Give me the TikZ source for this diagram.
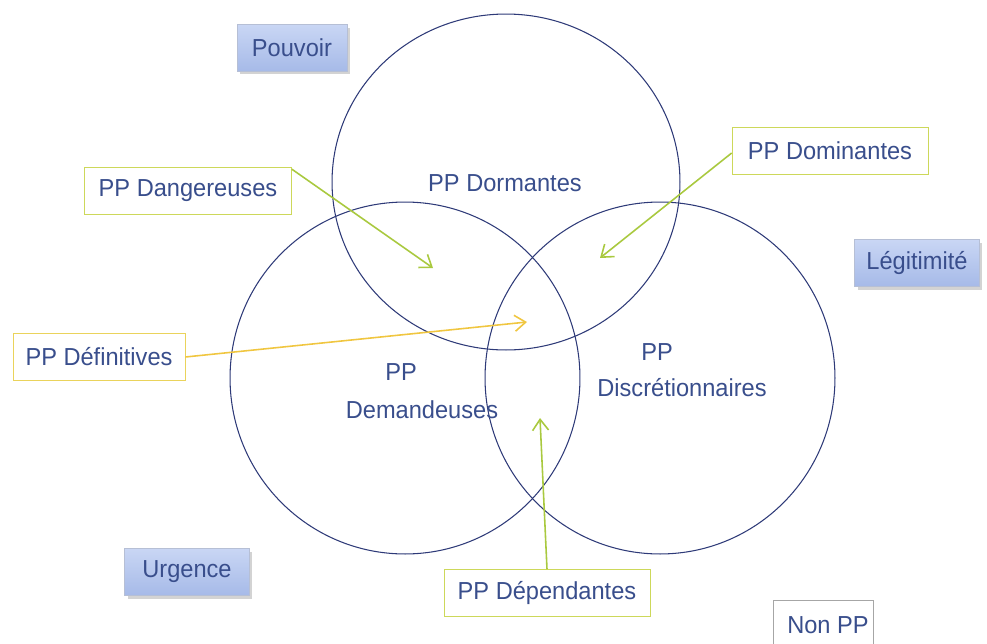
\documentclass[tikz,border=0pt]{standalone}
\usepackage{fontspec}
\setmainfont{Liberation Sans}[FakeStretch=0.96]
\usetikzlibrary{arrows.meta,shadows}
\definecolor{txt}{HTML}{394E8C}
\definecolor{ring}{HTML}{2E3A78}
\definecolor{leaf}{HTML}{A9C93F}
\definecolor{leafbox}{HTML}{CDD85A}
\definecolor{gold}{HTML}{F0C640}
\definecolor{goldbox}{HTML}{EAD35B}
\definecolor{tagtop}{HTML}{C9D6F4}
\definecolor{tagbot}{HTML}{A6BAE8}
\begin{document}
\begin{tikzpicture}[x=0.02cm,y=-0.02cm,
      every node/.style={text=txt,font=\fontsize{14}{16}\selectfont,inner sep=0pt},
      tag/.style={draw=tagbot!80!black!60,top color=tagtop,bottom color=tagbot,
        minimum height=0.94cm,drop shadow={opacity=0.35,shadow xshift=0.6mm,shadow yshift=-0.6mm}},
      pp/.style={draw=leafbox,fill=white,minimum height=0.94cm},
      ppgold/.style={draw=goldbox,fill=white,minimum height=0.94cm},
      ptr/.style={leaf,line width=0.9pt,-{Straight Barb[length=2.2mm,width=3.2mm]}},
      ptrgold/.style={gold,line width=0.9pt,-{Straight Barb[length=2.2mm,width=3.2mm]}}]
  \useasboundingbox (0,0) rectangle (987,643);

  % circles
  \draw[ring,line width=0.6pt] (506,182) ellipse [x radius=3.48cm,y radius=3.36cm];
  \draw[ring,line width=0.6pt] (405,378) ellipse [x radius=3.5cm,y radius=3.52cm];
  \draw[ring,line width=0.6pt] (660,378) ellipse [x radius=3.5cm,y radius=3.52cm];

  \node (dorm) at (505,183) {PP Dormantes};
  \node (dem1) at (401,372) {PP};
  \node (dem2) at (422,410) {Demandeuses};
  \node (dis1) at (657,352) {PP};
  \node (dis2) at (682,388) {Discrétionnaires};

  % attributes
  \node[tag,minimum width=2.2cm] (pouv) at (292,48) {Pouvoir};
  \node[tag,minimum width=2.5cm] (legi) at (917,263) {Légitimité};
  \node[tag,minimum width=2.5cm] (urg) at (187,572) {Urgence};

  % stakeholder boxes
  \node[pp,minimum width=4.14cm] (dang) at (188,191) {PP Dangereuses};
  \node[pp,minimum width=3.92cm] (domi) at (830,151) {PP Dominantes};
  \node[ppgold,minimum width=3.44cm] (defi) at (99,357) {PP Définitives};
  \node[pp,minimum width=4.12cm] (depe) at (547,593) {PP Dépendantes};
  \node[draw=gray!70,fill=white,minimum width=2cm,minimum height=1.3cm,anchor=north west] (nonpp) at (773,600) {};
  \node (nonlbl) at (828,625) {Non PP};

  \coordinate (pdang) at (433,268);
  \coordinate (pdomi) at (600,258);
  \coordinate (pdefi) at (527,322);
  \coordinate (pdepe) at (540,418);

  \draw[ptr] (dang.north east) ++(0,2) -- (pdang);
  \draw[ptr] (domi.west) ++(0,2) -- (pdomi);
  \draw[ptrgold] (defi.east) -- (pdefi);
  \draw[ptr] (depe.north) -- (pdepe);
\end{tikzpicture}
\end{document}
